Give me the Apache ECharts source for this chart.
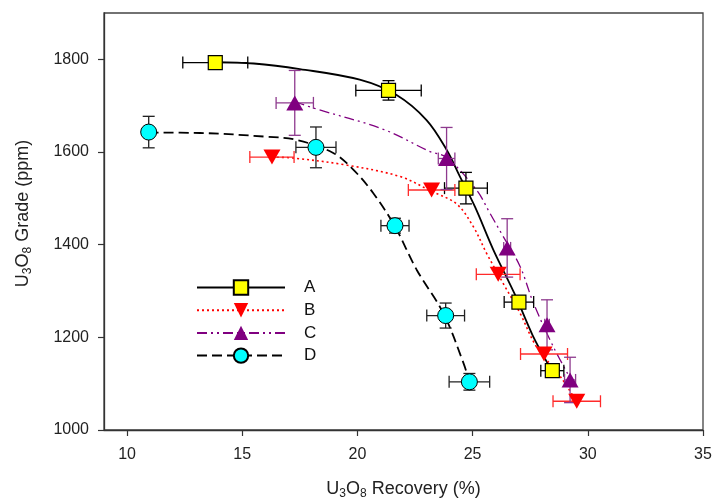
<!DOCTYPE html>
<html><head><meta charset="utf-8">
<script src="https://cdn.jsdelivr.net/npm/echarts@6/dist/echarts.min.js"></script>
<style>html,body{margin:0;padding:0;background:#fff}#c{width:713px;height:502px}</style>
</head><body><div id="c"></div>
<script>
const xTicks = [10, 15, 20, 25, 30, 35];
const yTicks = [1000, 1200, 1400, 1600, 1800];
const seriesNames = ['A', 'B', 'C', 'D'];
// measured points: [recovery %, grade ppm, recovery error, grade error]
const pointsA = [[13.83,1793,1.41,0],[21.35,1733,1.42,21],[24.71,1522,0.93,34],[27.01,1276,0.64,10],[28.46,1128,0.5,10]];
const pointsB = [[16.29,1589,0.96,0],[23.22,1518,1.01,0],[26.11,1336,0.95,0],[28.1,1164,1.02,0],[29.52,1062,1.03,0]];
const pointsC = [[17.28,1706,0.81,70],[23.87,1586,0.36,67],[26.5,1393,0.15,63],[28.23,1227,0.1,54],[29.23,1108,0.24,49]];
const pointsD = [[10.94,1643,0,34],[18.2,1610,0.87,44],[21.63,1441,0.61,16],[23.83,1247,0.82,27],[24.86,1104,0.88,18]];
// fitted curves
const curveA = [[13.82,1794],[15.5,1791],[17.5,1779],[20.1,1756],[21.7,1723],[23.0,1669],[23.87,1605],[24.45,1547],[25.1,1482],[25.9,1389],[26.84,1292],[27.6,1205],[28.3,1140]];
const curveB = [[16.29,1589],[17.2,1587],[19.5,1572],[21.85,1547],[23.22,1515],[24.3,1488],[25.03,1439],[25.6,1382],[26.4,1310],[27.06,1252],[27.77,1180],[28.8,1116],[29.5,1062]];
const curveC = [[17.28,1709],[18.08,1695],[21.12,1649],[23.15,1601],[23.87,1588],[25.17,1518],[25.75,1468],[26.3,1420],[27.06,1353],[27.64,1274],[28.5,1180],[29.2,1115]];
const curveD = [[10.94,1642],[13.17,1641],[16.06,1633],[17.36,1626],[18.95,1598],[19.82,1562],[20.69,1511],[21.63,1439],[22.57,1346],[23.73,1252],[24.6,1145],[24.86,1104]];

const FONT = 'Liberation Sans, Arial, sans-serif';

function errRender(color) {
  return function (params, api) {
    const x = api.value(0), y = api.value(1), xe = api.value(2), ye = api.value(3);
    const cap = 6;
    const st = { stroke: color, lineWidth: 1.3, fill: null };
    const ch = [];
    if (xe > 0) {
      const l = api.coord([x - xe, y]), r = api.coord([x + xe, y]);
      ch.push({ type: 'line', shape: { x1: l[0], y1: l[1], x2: r[0], y2: r[1] }, style: st });
      ch.push({ type: 'line', shape: { x1: l[0], y1: l[1] - cap, x2: l[0], y2: l[1] + cap }, style: st });
      ch.push({ type: 'line', shape: { x1: r[0], y1: r[1] - cap, x2: r[0], y2: r[1] + cap }, style: st });
    }
    if (ye > 0) {
      const t = api.coord([x, y + ye]), b = api.coord([x, y - ye]);
      ch.push({ type: 'line', shape: { x1: t[0], y1: t[1], x2: b[0], y2: b[1] }, style: st });
      ch.push({ type: 'line', shape: { x1: t[0] - cap, y1: t[1], x2: t[0] + cap, y2: t[1] }, style: st });
      ch.push({ type: 'line', shape: { x1: b[0] - cap, y1: b[1], x2: b[0] + cap, y2: b[1] }, style: st });
    }
    return { type: 'group', children: ch };
  };
}

const cfg = [
  { name: 'A', pts: pointsA, curve: curveA, lineColor: '#000000', lineType: 'solid', lineWidth: 1.8,
    symbol: 'rect', size: 14, rotate: 0, fill: '#ffff00', border: '#000000', bw: 1.2, err: '#000000' },
  { name: 'B', pts: pointsB, curve: curveB, lineColor: '#ff0000', lineType: [2, 3], lineWidth: 1.6,
    symbol: 'triangle', size: [17, 15], rotate: 180, fill: '#ff0000', border: '#ff0000', bw: 0, err: '#ff2a2a' },
  { name: 'C', pts: pointsC, curve: curveC, lineColor: '#800080', lineType: [10, 4, 2, 4, 2, 4], lineWidth: 1.3,
    symbol: 'triangle', size: [17, 15], rotate: 0, fill: '#800080', border: '#800080', bw: 0, err: '#8e3a8e' },
  { name: 'D', pts: pointsD, curve: curveD, lineColor: '#000000', lineType: [10, 5], lineWidth: 1.8,
    symbol: 'circle', size: 16, rotate: 0, fill: '#00ffff', border: '#000000', bw: 1, err: '#222222' }
];

const series = [];
cfg.forEach(c => {
  series.push({
    name: c.name, type: 'line', data: c.curve, smooth: 0.35, showSymbol: false,
    symbol: c.symbol, symbolRotate: c.rotate,
    itemStyle: { color: c.fill, borderColor: c.border, borderWidth: c.bw },
    lineStyle: { color: c.lineColor, type: c.lineType, width: c.lineWidth },
    z: 2, silent: true
  });
});
cfg.forEach(c => {
  series.push({
    name: c.name + '-err', type: 'custom', data: c.pts, renderItem: errRender(c.err),
    encode: { x: 0, y: 1 }, clip: false, z: 3, silent: true
  });
});
cfg.forEach(c => {
  series.push({
    name: c.name + '-pts', type: 'scatter', data: c.pts.map(p => [p[0], p[1]]),
    symbol: c.symbol, symbolSize: c.size, symbolRotate: c.rotate,
    itemStyle: { color: c.fill, borderColor: c.border, borderWidth: c.bw, opacity: 1 },
    z: 4, silent: true
  });
});

const axisCommon = {
  axisLine: { show: true, lineStyle: { color: '#333', width: 1.3 } },
  axisTick: { show: true, inside: false, length: 6, lineStyle: { color: '#333', width: 1.2 } },
  splitLine: { show: false },
  nameLocation: 'middle'
};
const richName = {
  n: { fontFamily: FONT, fontSize: 18, color: '#222', lineHeight: 22 },
  s: { fontFamily: FONT, fontSize: 12, color: '#222', lineHeight: 10, verticalAlign: 'bottom' }
};

const chart = echarts.init(document.getElementById('c'), null, { renderer: 'canvas' });
chart.setOption({
  animation: false,
  backgroundColor: '#ffffff',
  grid: { left: 104, right: 10, top: 13, bottom: 72, containLabel: false, outerBoundsMode: 'none',
          show: true, borderColor: '#444', borderWidth: 1.3, backgroundColor: 'transparent' },
  legend: {
    data: seriesNames, orient: 'vertical', left: 196, top: 279, padding: 0,
    itemWidth: 88, itemHeight: 18, itemGap: 5.7,
    textStyle: { fontFamily: FONT, fontSize: 17, color: '#111', padding: [0, 0, 0, 14] },
    selectedMode: false
  },
  xAxis: Object.assign({}, axisCommon, {
    type: 'value', min: 9, max: 35,
    axisTick: Object.assign({}, axisCommon.axisTick, { customValues: xTicks }),
    axisLabel: { customValues: xTicks, formatter: v => String(v), fontFamily: FONT, fontSize: 16, color: '#222', margin: 17 },
    name: '{n|U}{s|3}{n|O}{s|8}{n| Recovery (%)}', nameGap: 48,
    nameTextStyle: { fontFamily: FONT, fontSize: 18, color: '#222', rich: richName }
  }),
  yAxis: Object.assign({}, axisCommon, {
    type: 'value', min: 1000, max: 1900,
    axisTick: Object.assign({}, axisCommon.axisTick, { customValues: yTicks }),
    axisLabel: { customValues: yTicks, formatter: v => String(v), fontFamily: FONT, fontSize: 16, color: '#222', margin: 15 },
    name: '{n|U}{s|3}{n|O}{s|8}{n| Grade (ppm)}', nameGap: 70,
    nameTextStyle: { fontFamily: FONT, fontSize: 18, color: '#222', rich: richName, padding: [0, 0, 0, 16] }
  }),
  series: series
});
</script></body></html>
